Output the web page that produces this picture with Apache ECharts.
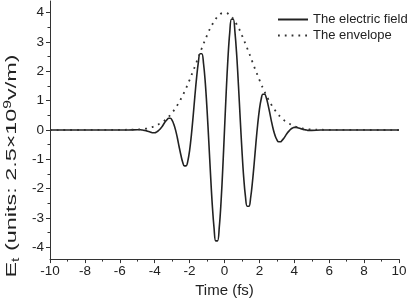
<!DOCTYPE html>
<html><head><meta charset="utf-8">
<script src="https://cdn.jsdelivr.net/npm/echarts@6/dist/echarts.min.js"></script>
<style>html,body{margin:0;padding:0;background:#fff}#c{width:410px;height:303px}</style>
</head><body><div id="c"></div>
<script>
// Time axis samples (fs)
const times = [-10, -5.5,
  -5, -4.9, -4.8, -4.7, -4.6, -4.5, -4.4, -4.3, -4.2, -4.1,
  -4, -3.9, -3.8, -3.7, -3.6, -3.5, -3.4, -3.3, -3.2, -3.1,
  -3, -2.9, -2.8, -2.7, -2.6, -2.5, -2.4, -2.3, -2.2, -2.1,
  -2, -1.9, -1.8, -1.7, -1.6, -1.5, -1.4, -1.3, -1.2, -1.1,
  -1, -0.9, -0.8, -0.7, -0.6, -0.5, -0.4, -0.3, -0.2, -0.1,
  0, 0.1, 0.2, 0.3, 0.4, 0.5, 0.6, 0.7, 0.8, 0.9,
  1, 1.1, 1.2, 1.3, 1.4, 1.5, 1.6, 1.7, 1.8, 1.9,
  2, 2.1, 2.2, 2.3, 2.4, 2.5, 2.6, 2.7, 2.8, 2.9,
  3, 3.1, 3.2, 3.3, 3.4, 3.5, 3.6, 3.7, 3.8, 3.9,
  4, 4.1, 4.2, 4.3, 4.4, 4.5, 4.6, 4.7, 4.8, 4.9,
  5, 5.5, 10];

// The electric field (units: 2.5x10^9 V/m)
const field = [0, 0,
  0.01, 0.01, 0.01, 0.00, -0.01, -0.02, -0.04, -0.06, -0.08, -0.09,
  -0.09, -0.07, -0.03, 0.03, 0.10, 0.19, 0.28, 0.35, 0.40, 0.40,
  0.33, 0.19, -0.01, -0.27, -0.57, -0.85, -1.09, -1.22, -1.22, -1.05,
  -0.70, -0.18, 0.45, 1.14, 1.78, 2.30, 2.60, 2.60, 2.26, 1.61,
  0.69, -0.39, -1.52, -2.55, -3.33, -3.78, -3.78, -3.32, -2.47, -1.32,
  0, 1.32, 2.47, 3.32, 3.78, 3.78, 3.33, 2.55, 1.52, 0.39,
  -0.69, -1.61, -2.26, -2.60, -2.60, -2.30, -1.78, -1.14, -0.45, 0.18,
  0.70, 1.05, 1.22, 1.22, 1.09, 0.85, 0.57, 0.27, 0.01, -0.19,
  -0.33, -0.40, -0.40, -0.35, -0.28, -0.19, -0.10, -0.03, 0.03, 0.07,
  0.09, 0.09, 0.08, 0.06, 0.04, 0.02, 0.01, 0.00, -0.01, -0.01,
  -0.01, 0, 0];

// The envelope
const envelope = [0, 0.01,
  0.02, 0.02, 0.03, 0.04, 0.04, 0.05, 0.07, 0.08, 0.09, 0.11,
  0.13, 0.16, 0.19, 0.22, 0.25, 0.30, 0.34, 0.39, 0.45, 0.52,
  0.59, 0.67, 0.75, 0.85, 0.95, 1.06, 1.17, 1.30, 1.43, 1.57,
  1.71, 1.86, 2.01, 2.16, 2.32, 2.48, 2.64, 2.79, 2.94, 3.09,
  3.23, 3.37, 3.49, 3.60, 3.71, 3.79, 3.87, 3.92, 3.97, 3.99,
  4.00, 3.99, 3.97, 3.92, 3.87, 3.79, 3.71, 3.60, 3.49, 3.37,
  3.23, 3.09, 2.94, 2.79, 2.64, 2.48, 2.32, 2.16, 2.01, 1.86,
  1.71, 1.57, 1.43, 1.30, 1.17, 1.06, 0.95, 0.85, 0.75, 0.67,
  0.59, 0.52, 0.45, 0.39, 0.34, 0.30, 0.25, 0.22, 0.19, 0.16,
  0.13, 0.11, 0.09, 0.08, 0.07, 0.05, 0.04, 0.04, 0.03, 0.02,
  0.02, 0.01, 0];

const seriesNames = ['The electric field', 'The envelope'];
const yTickValues = [-4, -3, -2, -1, 0, 1, 2, 3, 4];
const yMinorValues = [-3.5, -2.5, -1.5, -0.5, 0.5, 1.5, 2.5, 3.5];
const xRange = [-10, 10];
const yRange = [-4.4, 4.4];

const FONT = "'Liberation Sans', Arial, Helvetica, sans-serif";
const INK = '#222';
const AXIS = '#333';

const chart = echarts.init(document.getElementById('c'), null, {renderer: 'canvas'});
chart.setOption({
  animation: false,
  backgroundColor: '#fff',
  textStyle: {fontFamily: FONT, color: INK},
  grid: {left: 50, right: 11, top: 1, bottom: 43, containLabel: false},
  legend: {
    orient: 'vertical', left: 277, top: 13, padding: 0,
    itemWidth: 30, itemHeight: 14, itemGap: 3,
    itemStyle: {opacity: 0},
    textStyle: {fontSize: 13, color: INK, fontFamily: FONT},
    data: seriesNames
  },
  xAxis: {
    type: 'value', min: xRange[0], max: xRange[1], interval: 2,
    name: 'Time (fs)', nameLocation: 'middle', nameGap: 22,
    nameTextStyle: {fontSize: 15, color: INK, fontFamily: FONT},
    axisLine: {show: true, onZero: false, lineStyle: {color: AXIS, width: 1}},
    axisTick: {show: true, length: 4, lineStyle: {color: AXIS}},
    minorTick: {show: true, splitNumber: 2, length: 2.5, lineStyle: {color: AXIS}},
    axisLabel: {fontSize: 13.5, color: INK, margin: 5, fontFamily: FONT},
    splitLine: {show: false}, minorSplitLine: {show: false}
  },
  yAxis: [{
    type: 'value', min: yRange[0], max: yRange[1], position: 'left',
    axisLine: {show: true, onZero: false, lineStyle: {color: AXIS, width: 1}},
    axisTick: {show: true, length: 4, customValues: yTickValues, lineStyle: {color: AXIS}},
    axisLabel: {fontSize: 13.5, color: INK, margin: 6, customValues: yTickValues, fontFamily: FONT},
    splitLine: {show: false}
  }, {
    type: 'value', min: yRange[0], max: yRange[1], position: 'left', offset: 0,
    axisLine: {show: false, onZero: false},
    axisTick: {show: true, length: 2.5, customValues: yMinorValues, lineStyle: {color: AXIS}},
    axisLabel: {show: false},
    splitLine: {show: false}
  }],
  graphic: [{
    type: 'text', x: 12, y: 166, rotation: Math.PI / 2, scaleX: 1.56, scaleY: 1,
    style: {
      text: '{a|E}{s|t}{a| (units: 2.5×10}{p|9}{a|v/m)}',
      align: 'center', verticalAlign: 'middle', fill: INK,
      rich: {
        a: {fontSize: 15, fontFamily: FONT, fill: INK, lineHeight: 18, verticalAlign: 'middle'},
        s: {fontSize: 10, fontFamily: FONT, fill: INK, lineHeight: 18, verticalAlign: 'bottom', padding: [8, 0, 0, 0]},
        p: {fontSize: 10, fontFamily: FONT, fill: INK, lineHeight: 18, verticalAlign: 'top', padding: [0, 0, 8, 0]}
      }
    }
  }],
  series: [{
    name: seriesNames[0], type: 'line', yAxisIndex: 0,
    data: times.map((t, i) => [t, field[i]]),
    smooth: 0.4, symbol: 'none',
    lineStyle: {color: INK, width: 1.6},
    itemStyle: {color: INK}
  }, {
    name: seriesNames[1], type: 'line', yAxisIndex: 0,
    data: times.map((t, i) => [t, envelope[i]]),
    smooth: 0.4, symbol: 'none',
    lineStyle: {color: '#333', width: 1.8, type: [1.8, 5]},
    itemStyle: {color: '#333'}
  }]
});
</script></body></html>
